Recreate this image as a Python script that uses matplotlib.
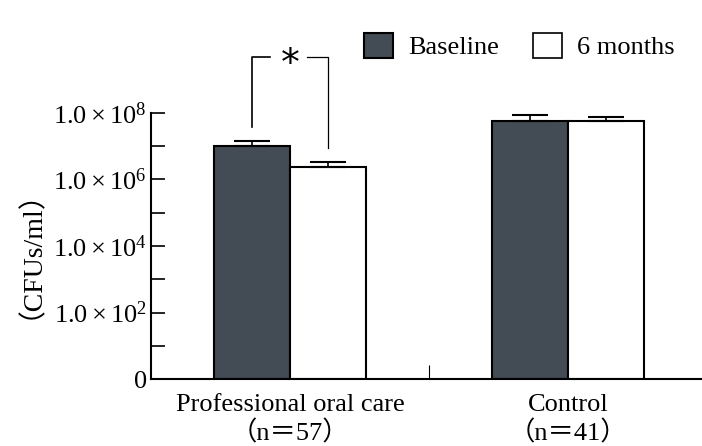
import matplotlib.pyplot as plt
import numpy as np
from matplotlib.patches import Patch

groups = ["Professional oral care\n（n＝57）", "Control\n（n＝41）"]
series = ["Baseline", "6 months"]
baseline = [1.0e7, 5.7e7]
baseline_err = [0.4e7, 3.2e7]
months6 = [2.4e6, 5.5e7]
months6_err = [0.9e6, 2.0e7]

plt.rcParams['font.family'] = ['Liberation Serif', 'Noto Sans CJK JP']
plt.rcParams['mathtext.fontset'] = 'custom'
plt.rcParams['mathtext.rm'] = 'Liberation Serif'

fig = plt.figure(figsize=(7.02, 4.46), dpi=100)
ax = fig.add_axes([0.215, 0.150, 0.785, 0.597])

x = np.arange(len(groups))
w = 0.273
dark = '#434b54'
ax.bar(x - w / 2, baseline, w, bottom=1, color=dark, edgecolor='black', linewidth=1.5)
ax.bar(x + w / 2, months6, w, bottom=1, color='white', edgecolor='black', linewidth=1.5)
ax.errorbar(x - w / 2, baseline, yerr=[[0, 0], baseline_err], fmt='none', ecolor='black',
            elinewidth=1.2, capsize=13, capthick=1.5)
ax.errorbar(x + w / 2, months6, yerr=[[0, 0], months6_err], fmt='none', ecolor='black',
            elinewidth=1.2, capsize=13, capthick=1.5)

ax.set_yscale('log')
ax.set_ylim(1, 1e8)
ax.set_xlim(-0.5, 1.48)
ax.set_yticks([1, 1e2, 1e4, 1e6, 1e8])
ax.set_yticklabels(['0'] + [r'$\mathregular{1.0\,{\times}\,10^{%d}}$' % p for p in (2, 4, 6, 8)],
                   fontsize=19)
ax.set_yticks([10, 1e3, 1e5, 1e7], minor=True)
ax.yaxis.set_minor_formatter(plt.NullFormatter())
ax.tick_params(axis='y', which='both', direction='in', length=10, width=1.2, pad=3)
ax.set_xticks(x)
ax.set_xticklabels(groups, fontsize=19, linespacing=1.2)
ax.set_xticks([0.5], minor=True)
ax.tick_params(axis='x', which='major', length=0, pad=11)
ax.tick_params(axis='x', which='minor', direction='in', length=10, width=0.8)
ax.spines['top'].set_visible(False)
ax.spines['right'].set_visible(False)
ax.spines['left'].set_linewidth(1.5)
ax.spines['bottom'].set_linewidth(1.5)
ax.set_ylabel('（CFUs/ml）', fontsize=20)
ax.yaxis.set_label_coords(-0.22, 0.52)

# significance bracket
xl, xr = -w / 2, w / 2
ytop = 10 ** 9.67
ax.plot([xl, xl, xl + 0.065], [10 ** 7.57, ytop, ytop], color='black', lw=1.2, clip_on=False)
ax.plot([xr - 0.075, xr, xr], [ytop, ytop, 10 ** 6.94], color='black', lw=0.9, clip_on=False)
ax.text(0, 10 ** 9.45, '*', ha='center', va='center', fontsize=27, fontfamily='DejaVu Sans', clip_on=False)

handles = [Patch(facecolor=dark, edgecolor='black', linewidth=1.5),
           Patch(facecolor='white', edgecolor='black', linewidth=1.2)]
fig.legend(handles, series, loc='center left', bbox_to_anchor=(0.504, 0.897), ncol=2,
           frameon=False, fontsize=19, handlelength=1.1, handleheight=1.1,
           handletextpad=0.55, columnspacing=1.3, borderaxespad=0)

fig.savefig('out.png', dpi=100)
